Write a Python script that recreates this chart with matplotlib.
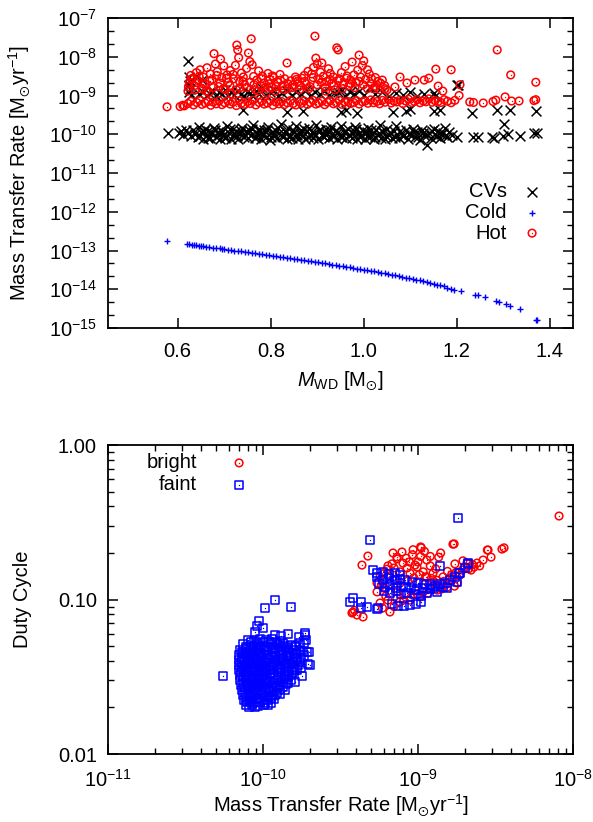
import matplotlib
matplotlib.use("Agg")
import numpy as np
import matplotlib.pyplot as plt
from matplotlib.ticker import FixedLocator, FixedFormatter, NullFormatter

plt.rcParams['font.family'] = ['Liberation Sans', 'DejaVu Sans']
plt.rcParams['mathtext.fontset'] = 'custom'
plt.rcParams['mathtext.rm'] = 'Liberation Sans'
plt.rcParams['mathtext.it'] = 'Liberation Sans:italic'
plt.rcParams['mathtext.default'] = 'regular'

# ---------------- upper panel: white-dwarf mass vs. mass transfer rate ----------------
# CVs, lower branch (~1e-10 Msun/yr)
cv_low_mass = [0.578, 0.603, 0.607, 0.612, 0.618, 0.623, 0.628, 0.633, 0.638, 0.643, 0.646, 0.650,
               0.654, 0.658, 0.662, 0.666, 0.670, 0.674, 0.678, 0.682, 0.686, 0.690, 0.694, 0.698,
               0.702, 0.706, 0.710, 0.714, 0.718, 0.722, 0.726, 0.730, 0.734, 0.738, 0.742, 0.746,
               0.750, 0.754, 0.758, 0.762, 0.766, 0.770, 0.774, 0.778, 0.782, 0.786, 0.790, 0.794,
               0.798, 0.802, 0.806, 0.810, 0.814, 0.818, 0.822, 0.826, 0.830, 0.834, 0.838, 0.842,
               0.846, 0.850, 0.854, 0.858, 0.862, 0.866, 0.870, 0.874, 0.878, 0.882, 0.886, 0.890,
               0.894, 0.898, 0.902, 0.906, 0.910, 0.914, 0.918, 0.922, 0.926, 0.930, 0.934, 0.938,
               0.942, 0.946, 0.950, 0.954, 0.958, 0.962, 0.966, 0.970, 0.974, 0.978, 0.982, 0.986,
               0.990, 0.994, 0.998, 1.002, 1.006, 1.010, 1.014, 1.018, 1.022, 1.026, 1.030, 1.034,
               1.038, 1.042, 1.046, 1.050, 1.055, 1.060, 1.065, 1.070, 1.075, 1.080, 1.085, 1.090,
               1.095, 1.100, 1.105, 1.110, 1.115, 1.120, 1.125, 1.130, 1.135, 1.140, 1.145, 1.150,
               1.155, 1.160, 1.165, 1.170, 1.175, 1.180, 1.183, 1.190, 1.200, 1.235, 1.245, 1.276,
               1.281, 1.302, 1.300, 1.310, 1.336, 1.367, 1.372]
cv_low_rate = [1.05e-10, 1.1e-10, 1.2e-10, 9.6e-11, 1.3e-10, 1.08e-10, 9.0e-11, 1.25e-10, 1.02e-10, 8.3e-11, 1.55e-10, 1.12e-10,
               7.6e-11, 1.38e-10, 9.4e-11, 1.2e-10, 7.9e-11, 1.05e-10, 1.45e-10, 8.6e-11, 1.15e-10, 7.4e-11, 1.3e-10, 9.8e-11,
               8.1e-11, 1.6e-10, 1.1e-10, 7.7e-11, 1.35e-10, 9.2e-11, 1.22e-10, 7.5e-11, 1.04e-10, 1.48e-10, 8.4e-11, 1.18e-10,
               7.8e-11, 1.28e-10, 9.6e-11, 1.7e-10, 8.0e-11, 1.1e-10, 1.4e-10, 7.6e-11, 1.0e-10, 1.25e-10, 8.7e-11, 1.55e-10,
               7.3e-11, 1.13e-10, 9.1e-11, 1.32e-10, 7.9e-11, 1.07e-10, 1.8e-10, 8.5e-11, 1.2e-10, 7.5e-11, 1.42e-10, 9.7e-11,
               8.2e-11, 1.16e-10, 1.6e-10, 7.7e-11, 1.03e-10, 1.3e-10, 8.9e-11, 7.4e-11, 1.19e-10, 1.45e-10, 9.3e-11, 8.0e-11,
               1.08e-10, 1.75e-10, 7.6e-11, 1.26e-10, 9.5e-11, 8.3e-11, 1.37e-10, 1.1e-10, 7.8e-11, 1.5e-10, 9.0e-11, 1.21e-10,
               7.5e-11, 1.02e-10, 1.65e-10, 8.6e-11, 1.14e-10, 7.9e-11, 1.33e-10, 9.6e-11, 8.1e-11, 1.24e-10, 1.55e-10, 7.6e-11,
               1.06e-10, 8.8e-11, 1.29e-10, 7.4e-11, 1.12e-10, 1.45e-10, 8.4e-11, 1.0e-10, 7.7e-11, 1.27e-10, 9.3e-11, 1.75e-10,
               8.0e-11, 1.17e-10, 7.5e-11, 1.35e-10, 9.8e-11, 8.2e-11, 1.22e-10, 1.6e-10, 7.8e-11, 1.08e-10, 8.9e-11, 1.3e-10,
               7.6e-11, 1.0e-10, 1.4e-10, 8.5e-11, 1.15e-10, 7.3e-11, 1.25e-10, 9.4e-11, 5.2e-11, 1.1e-10, 8.0e-11, 1.35e-10,
               9.0e-11, 1.2e-10, 7.8e-11, 1.05e-10, 1.45e-10, 8.7e-11, 1.15e-10, 9.5e-11, 8.5e-11, 8.5e-11, 8.5e-11, 8.5e-11,
               8.2e-11, 1.8e-10, 9.0e-11, 1.0e-10, 8.8e-11, 1.05e-10, 1.1e-10]
cv_low2_mass = [0.648, 0.656, 0.664, 0.672, 0.680, 0.688, 0.696, 0.704, 0.712, 0.720,
                0.728, 0.736, 0.744, 0.752, 0.760, 0.768, 0.776, 0.784, 0.792, 0.800,
                0.808, 0.816, 0.824, 0.832, 0.840, 0.848, 0.856, 0.864, 0.872, 0.880,
                0.888, 0.896, 0.904, 0.912, 0.920, 0.928, 0.936, 0.944, 0.952, 0.960,
                0.968, 0.976, 0.984, 0.992, 1.000, 1.008, 1.016, 1.024, 1.032, 1.040,
                1.048, 1.057, 1.067, 1.077, 1.087, 1.097, 1.107, 1.117, 1.127, 1.137,
                1.147, 1.157, 1.167, 1.177]
cv_low2_rate = [9.0e-11, 1.22e-10, 8.2e-11, 1.05e-10, 1.32e-10, 9.5e-11, 1.15e-10, 8.5e-11, 1.4e-10, 1.0e-10,
                8.8e-11, 1.2e-10, 9.3e-11, 1.1e-10, 1.35e-10, 8.6e-11, 1.18e-10, 9.8e-11, 1.28e-10, 8.4e-11,
                1.02e-10, 1.45e-10, 9.2e-11, 1.12e-10, 8.7e-11, 1.3e-10, 9.6e-11, 1.07e-10, 1.38e-10, 8.5e-11,
                1.16e-10, 9.4e-11, 1.25e-10, 8.9e-11, 1.04e-10, 1.3e-10, 9.0e-11, 1.13e-10, 8.3e-11, 1.22e-10,
                9.7e-11, 1.09e-10, 1.36e-10, 8.6e-11, 1.17e-10, 9.2e-11, 1.27e-10, 8.4e-11, 1.06e-10, 1.2e-10,
                9.1e-11, 1.1e-10, 8.7e-11, 1.24e-10, 9.5e-11, 1.03e-10, 1.15e-10, 8.5e-11, 1.08e-10, 9.6e-11,
                1.2e-10, 8.8e-11, 1.0e-10, 9.3e-11]

# CVs, upper branch (~1e-9 Msun/yr)
cv_high_mass = [0.622, 0.624, 0.625, 0.626, 0.627, 0.625, 0.628, 0.640, 0.652, 0.645, 0.655, 0.662,
                0.668, 0.675, 0.682, 0.688, 0.695, 0.702, 0.708, 0.715, 0.722, 0.728, 0.735, 0.742,
                0.748, 0.755, 0.762, 0.768, 0.775, 0.782, 0.790, 0.798, 0.806, 0.815, 0.825, 0.835,
                0.845, 0.855, 0.865, 0.875, 0.885, 0.895, 0.905, 0.915, 0.925, 0.935, 0.945, 0.953,
                0.960, 0.970, 0.980, 0.990, 1.000, 1.013, 1.025, 1.040, 1.055, 1.070, 1.085, 1.100,
                1.115, 1.130, 1.150, 1.153, 1.200, 1.203, 0.740, 0.835, 0.870, 0.950, 0.962, 0.985,
                1.063, 1.090, 1.100, 1.150, 1.165, 1.232, 1.287, 1.315, 1.370]
cv_high_rate = [7.8e-9, 1.9e-9, 3.0e-9, 2.4e-9, 1.5e-9, 1.25e-9, 1.05e-9, 3.2e-9, 2.5e-9, 1.1e-9, 1.25e-9, 9.8e-10,
                1.15e-9, 1.3e-9, 1.0e-9, 1.2e-9, 1.1e-9, 1.35e-9, 9.5e-10, 1.2e-9, 1.05e-9, 1.3e-9, 1.1e-9, 9.7e-10,
                1.25e-9, 1.15e-9, 1.0e-9, 1.3e-9, 1.1e-9, 1.6e-9, 1.05e-9, 1.2e-9, 1.35e-9, 1.0e-9, 1.15e-9, 1.3e-9,
                1.05e-9, 1.2e-9, 1.1e-9, 1.4e-9, 1.0e-9, 1.2e-9, 1.1e-9, 1.3e-9, 1.05e-9, 1.15e-9, 1.25e-9, 1.4e-9,
                1.0e-9, 1.2e-9, 1.1e-9, 1.3e-9, 1.05e-9, 1.7e-9, 1.1e-9, 1.2e-9, 1.0e-9, 1.15e-9, 1.05e-9, 1.2e-9,
                1.0e-9, 1.1e-9, 1.16e-9, 1.0e-9, 1.9e-9, 1.86e-9, 4.2e-10, 3.8e-10, 4.1e-10, 3.7e-10, 4.3e-10, 3.6e-10,
                3.7e-10, 3.9e-10, 4.5e-10, 4.0e-10, 4.2e-10, 3.6e-10, 4.2e-10, 4.2e-10, 4.0e-10]

# Cold disc systems
cold_mass = [0.577, 0.620, 0.625, 0.630, 0.636, 0.640, 0.646, 0.650, 0.655, 0.660, 0.667, 0.675,
             0.682, 0.690, 0.696, 0.700, 0.708, 0.715, 0.722, 0.730, 0.737, 0.745, 0.752, 0.760,
             0.767, 0.775, 0.782, 0.790, 0.797, 0.805, 0.812, 0.820, 0.827, 0.835, 0.842, 0.850,
             0.857, 0.865, 0.872, 0.880, 0.887, 0.895, 0.902, 0.910, 0.917, 0.925, 0.932, 0.940,
             0.947, 0.955, 0.962, 0.970, 0.977, 0.985, 0.992, 1.000, 1.008, 1.015, 1.022, 1.030,
             1.038, 1.045, 1.052, 1.060, 1.068, 1.075, 1.082, 1.090, 1.098, 1.105, 1.112, 1.120,
             1.128, 1.135, 1.142, 1.150, 1.158, 1.165, 1.172, 1.180, 1.188, 1.195, 1.210, 1.240,
             1.245, 1.260, 1.285, 1.290, 1.305, 1.315, 1.335, 1.370, 1.372]
cold_rate = [1.75e-13, 1.45e-13, 1.43e-13, 1.40e-13, 1.36e-13, 1.35e-13, 1.31e-13, 1.30e-13, 1.27e-13, 1.25e-13, 1.22e-13, 1.19e-13,
             1.16e-13, 1.13e-13, 1.11e-13, 1.09e-13, 1.06e-13, 1.03e-13, 1.0e-13, 9.7e-14, 9.45e-14, 9.2e-14, 8.95e-14, 8.7e-14,
             8.45e-14, 8.2e-14, 7.95e-14, 7.7e-14, 7.5e-14, 7.3e-14, 7.1e-14, 6.9e-14, 6.7e-14, 6.5e-14, 6.3e-14, 6.1e-14,
             5.95e-14, 5.8e-14, 5.65e-14, 5.5e-14, 5.3e-14, 5.1e-14, 4.95e-14, 4.8e-14, 4.65e-14, 4.5e-14, 4.35e-14, 4.2e-14,
             4.05e-14, 3.9e-14, 3.8e-14, 3.7e-14, 3.55e-14, 3.4e-14, 3.3e-14, 3.2e-14, 3.1e-14, 3.0e-14, 2.9e-14, 2.8e-14,
             2.7e-14, 2.6e-14, 2.5e-14, 2.4e-14, 2.3e-14, 2.2e-14, 2.1e-14, 2.0e-14, 1.92e-14, 1.85e-14, 1.78e-14, 1.7e-14,
             1.62e-14, 1.55e-14, 1.48e-14, 1.4e-14, 1.32e-14, 1.25e-14, 1.18e-14, 1.1e-14, 1.04e-14, 9.8e-15, 8.8e-15, 7.2e-15,
             7.0e-15, 6.2e-15, 5.0e-15, 4.8e-15, 4.2e-15, 3.8e-15, 3.1e-15, 1.65e-15, 1.6e-15]

# Hot disc systems, main band (~6e-10 Msun/yr)
hot_band_mass = [0.577, 0.605, 0.611, 0.614, 0.622, 0.628, 0.634, 0.641, 0.647, 0.652, 0.659, 0.665,
                 0.671, 0.676, 0.683, 0.689, 0.695, 0.701, 0.708, 0.713, 0.719, 0.726, 0.732, 0.737,
                 0.744, 0.750, 0.756, 0.762, 0.768, 0.775, 0.781, 0.786, 0.793, 0.799, 0.805, 0.811,
                 0.818, 0.823, 0.829, 0.836, 0.842, 0.848, 0.854, 0.861, 0.866, 0.872, 0.879, 0.885,
                 0.891, 0.897, 0.903, 0.910, 0.916, 0.922, 0.928, 0.935, 0.941, 0.947, 0.953, 0.959,
                 0.966, 0.972, 0.978, 0.984, 0.990, 0.997, 1.003, 1.009, 1.015, 1.021, 1.028, 1.034,
                 1.040, 1.046, 1.053, 1.059, 1.065, 1.071, 1.078, 1.084, 1.090, 1.096, 1.103, 1.109,
                 1.115, 1.121, 1.128, 1.134, 1.140, 1.147, 1.153, 1.160, 1.166, 1.173, 1.180, 1.188,
                 1.196, 1.228, 1.236, 1.257, 1.278, 1.284, 1.304, 1.318, 1.334, 1.366, 1.370]
hot_band_rate = [5.1e-10, 5.2e-10, 5.6e-10, 5.4e-10, 6.2e-10, 7.1e-10, 5.7e-10, 6.6e-10, 7.5e-10, 5.9e-10, 6.4e-10, 7.0e-10,
                 5.6e-10, 6.8e-10, 6.1e-10, 7.3e-10, 5.8e-10, 6.5e-10, 7.2e-10, 6.0e-10, 6.7e-10, 5.5e-10, 7.4e-10, 6.3e-10,
                 5.9e-10, 6.9e-10, 6.2e-10, 7.6e-10, 5.7e-10, 6.6e-10, 7.1e-10, 6.0e-10, 6.4e-10, 7.3e-10, 5.6e-10, 6.8e-10,
                 6.1e-10, 7.0e-10, 5.8e-10, 6.5e-10, 7.4e-10, 6.2e-10, 5.7e-10, 6.9e-10, 6.3e-10, 7.2e-10, 5.9e-10, 6.6e-10,
                 7.5e-10, 6.0e-10, 6.4e-10, 7.1e-10, 5.8e-10, 6.7e-10, 7.3e-10, 6.1e-10, 6.5e-10, 7.6e-10, 5.9e-10, 6.8e-10,
                 7.0e-10, 6.2e-10, 6.6e-10, 7.4e-10, 6.0e-10, 6.9e-10, 7.2e-10, 6.3e-10, 7.7e-10, 6.5e-10, 7.0e-10, 6.1e-10,
                 7.5e-10, 6.7e-10, 7.9e-10, 6.4e-10, 7.1e-10, 6.8e-10, 7.6e-10, 6.2e-10, 7.3e-10, 8.0e-10, 6.6e-10, 7.0e-10,
                 7.8e-10, 6.5e-10, 7.2e-10, 6.9e-10, 8.2e-10, 6.7e-10, 7.4e-10, 7.0e-10, 6.6e-10, 7.8e-10, 7.1e-10, 6.5e-10,
                 7.5e-10, 6.8e-10, 6.6e-10, 6.4e-10, 7.0e-10, 7.6e-10, 9.2e-10, 7.2e-10, 7.2e-10, 7.4e-10, 7.8e-10]

# Hot disc systems above the main band
hot_high_mass = [0.622, 0.625, 0.628, 0.632, 0.636, 0.640, 0.644, 0.648, 0.652, 0.655, 0.659, 0.663,
                 0.667, 0.670, 0.674, 0.678, 0.681, 0.685, 0.688, 0.692, 0.695, 0.699, 0.702, 0.706,
                 0.709, 0.713, 0.716, 0.720, 0.724, 0.727, 0.729, 0.731, 0.734, 0.737, 0.740, 0.744,
                 0.748, 0.752, 0.755, 0.758, 0.760, 0.763, 0.767, 0.770, 0.774, 0.778, 0.782, 0.786,
                 0.790, 0.794, 0.798, 0.802, 0.806, 0.810, 0.815, 0.820, 0.825, 0.830, 0.835, 0.838,
                 0.843, 0.848, 0.853, 0.858, 0.862, 0.867, 0.872, 0.876, 0.880, 0.884, 0.888, 0.892,
                 0.895, 0.897, 0.900, 0.903, 0.907, 0.910, 0.913, 0.917, 0.920, 0.924, 0.928, 0.931,
                 0.935, 0.938, 0.942, 0.945, 0.948, 0.952, 0.956, 0.960, 0.964, 0.968, 0.972, 0.975,
                 0.979, 0.983, 0.987, 0.990, 0.993, 0.997, 1.000, 1.004, 1.008, 1.012, 1.016, 1.020,
                 1.025, 1.030, 1.035, 1.040, 1.045, 1.050, 1.067, 1.078, 1.093, 1.110, 1.130, 1.140,
                 1.155, 1.160, 1.170, 1.188, 1.207, 1.205, 1.287, 1.316, 1.370]
hot_high_rate = [1.3e-9, 2.2e-9, 3.3e-9, 2.8e-9, 1.8e-9, 3.9e-9, 2.4e-9, 4.6e-9, 1.5e-9, 3.0e-9, 2.0e-9, 5.2e-9,
                 1.2e-9, 3.6e-9, 2.6e-9, 1.2e-8, 6.5e-9, 4.1e-9, 1.7e-9, 8.7e-9, 2.9e-9, 5.8e-9, 1.4e-9, 3.4e-9,
                 2.2e-9, 4.4e-9, 1.1e-9, 2.7e-9, 6.0e-9, 2.0e-8, 1.5e-8, 9.5e-9, 1.6e-9, 3.8e-9, 2.3e-9, 1.9e-9,
                 5.0e-9, 1.25e-8, 7.5e-9, 2.9e-8, 6.2e-9, 3.1e-9, 1.4e-9, 2.5e-9, 4.3e-9, 1.8e-9, 3.2e-9, 2.1e-9,
                 1.2e-9, 3.7e-9, 2.6e-9, 1.6e-9, 2.9e-9, 1.3e-9, 2.2e-9, 3.5e-9, 1.8e-9, 2.7e-9, 6.9e-9, 1.5e-9,
                 2.4e-9, 1.9e-9, 3.0e-9, 2.3e-9, 1.4e-9, 2.8e-9, 3.3e-9, 2.0e-9, 4.2e-9, 1.7e-9, 3.6e-9, 5.3e-9,
                 3.4e-8, 9.2e-9, 6.6e-9, 2.6e-9, 4.0e-9, 6.9e-9, 3.1e-9, 1.6e-9, 2.3e-9, 4.9e-9, 3.7e-9, 2.1e-9,
                 3.0e-9, 1.4e-9, 1.7e-8, 1.5e-8, 2.7e-9, 3.9e-9, 2.0e-9, 5.6e-9, 3.2e-9, 1.8e-9, 2.5e-9, 7.3e-9,
                 3.4e-9, 2.2e-9, 4.5e-9, 1.1e-8, 3.0e-9, 5.9e-9, 7.8e-9, 2.6e-9, 4.6e-9, 3.6e-9, 2.0e-9, 1.5e-9,
                 2.9e-9, 2.3e-9, 1.4e-9, 2.5e-9, 1.8e-9, 1.4e-9, 1.66e-9, 3.0e-9, 2.1e-9, 2.5e-9, 2.5e-9, 2.8e-9,
                 4.8e-9, 1.75e-9, 1.3e-9, 4.6e-9, 1.9e-9, 1.0e-9, 1.5e-8, 3.4e-9, 2.2e-9]
hot_high2_mass = [0.623, 0.630, 0.638, 0.646, 0.654, 0.661, 0.669, 0.676, 0.684, 0.691,
                  0.698, 0.705, 0.712, 0.719, 0.726, 0.733, 0.741, 0.748, 0.756, 0.764,
                  0.772, 0.780, 0.788, 0.796, 0.804, 0.812, 0.821, 0.829, 0.837, 0.846,
                  0.855, 0.864, 0.873, 0.882, 0.891, 0.900, 0.909, 0.918, 0.927, 0.936,
                  0.945, 0.954, 0.963, 0.972, 0.981, 0.990, 0.999, 1.008, 1.017, 1.026,
                  1.036, 1.046]
hot_high2_rate = [1.7e-9, 2.6e-9, 1.4e-9, 3.1e-9, 2.0e-9, 1.3e-9, 2.4e-9, 1.6e-9, 3.3e-9, 2.1e-9,
                  1.5e-9, 2.8e-9, 1.8e-9, 3.5e-9, 1.4e-9, 2.3e-9, 3.0e-9, 1.6e-9, 2.2e-9, 1.9e-9,
                  1.3e-9, 2.7e-9, 1.6e-9, 2.0e-9, 3.2e-9, 1.7e-9, 2.5e-9, 1.4e-9, 2.0e-9, 1.6e-9,
                  2.6e-9, 1.8e-9, 2.3e-9, 1.5e-9, 2.9e-9, 1.9e-9, 2.2e-9, 1.3e-9, 2.6e-9, 1.8e-9,
                  2.4e-9, 1.5e-9, 2.8e-9, 2.0e-9, 1.6e-9, 2.3e-9, 1.9e-9, 1.5e-9, 2.7e-9, 1.7e-9,
                  2.1e-9, 1.5e-9]

mass_ticks = [0.6, 0.8, 1.0, 1.2, 1.4]
rate_decades_top = [1e-15, 1e-14, 1e-13, 1e-12, 1e-11, 1e-10, 1e-9, 1e-8, 1e-7]

# ---------------- lower panel: mass transfer rate vs. duty cycle ----------------
bright_rate = [4.35e-10, 4.75e-10, 7.32e-10, 7.88e-10, 1.04e-9, 1.71e-9, 1.36e-9, 2.83e-9, 3.48e-9, 3.59e-9,
               2.96e-9, 2.63e-9, 2.40e-9, 2.07e-9, 1.73e-9, 1.14e-9, 9.57e-10, 8.0e-10, 7.32e-10, 6.31e-10,
               7.65e-10, 8.88e-10, 9.86e-10, 1.08e-9, 1.14e-9, 1.25e-9, 1.45e-9, 1.66e-9, 1.87e-9, 2.01e-9,
               1.79e-9, 1.54e-9, 1.33e-9, 1.16e-9, 1.03e-9, 8.88e-10, 7.65e-10, 6.59e-10, 5.69e-10, 5.44e-10,
               5.44e-10, 5.69e-10, 6.40e-10, 3.75e-10, 3.81e-10, 4.04e-10, 4.42e-10, 8.13e-9, 6.8e-10, 7.0e-10,
               8.4e-10, 9.2e-10, 1.0e-9, 1.2e-9, 1.3e-9, 1.55e-9, 2.2e-9, 2.5e-9, 1.95e-9, 6.1e-10,
               6.6e-10, 7.4e-10, 8.3e-10, 9.6e-10, 1.1e-9, 1.27e-9, 1.43e-9, 1.65e-9, 2.25e-9, 6.0e-10,
               8.5e-10, 1.04e-9, 1.2e-9, 9.3e-10, 6.9e-10, 1.4e-9, 5.9e-10, 7.0e-10, 3.9e-10, 1.68e-9,
               2.8e-9, 1.05e-9]
bright_duty = [0.167, 0.191, 0.188, 0.203, 0.219, 0.229, 0.188, 0.209, 0.212, 0.216,
               0.188, 0.180, 0.172, 0.172, 0.170, 0.180, 0.167, 0.172, 0.183, 0.157,
               0.151, 0.148, 0.162, 0.151, 0.140, 0.148, 0.140, 0.134, 0.144, 0.162,
               0.128, 0.120, 0.115, 0.110, 0.104, 0.099, 0.0964, 0.083, 0.0949, 0.112,
               0.128, 0.140, 0.099, 0.0818, 0.083, 0.0794, 0.0771, 0.347, 0.170, 0.160,
               0.185, 0.195, 0.175, 0.165, 0.158, 0.152, 0.155, 0.165, 0.178, 0.118,
               0.126, 0.112, 0.108, 0.115, 0.125, 0.130, 0.125, 0.145, 0.168, 0.147,
               0.160, 0.190, 0.190, 0.210, 0.200, 0.200, 0.088, 0.090, 0.085, 0.228,
               0.209, 0.216]
bright2_rate = [6.5e-10, 7.1e-10, 7.7e-10, 8.6e-10, 9.4e-10, 1.02e-9, 1.12e-9, 1.22e-9, 1.33e-9, 1.47e-9,
                1.6e-9, 1.76e-9, 1.93e-9, 2.12e-9, 2.3e-9, 6.2e-10, 7.3e-10, 8.1e-10, 9.0e-10, 9.9e-10,
                1.08e-9, 1.18e-9, 1.3e-9, 1.42e-9, 1.57e-9, 1.72e-9, 5.8e-10, 6.4e-10, 8.8e-10, 1.1e-9]
bright2_duty = [0.142, 0.135, 0.128, 0.132, 0.138, 0.145, 0.140, 0.137, 0.133, 0.131,
                0.138, 0.150, 0.155, 0.158, 0.162, 0.105, 0.102, 0.099, 0.103, 0.108,
                0.112, 0.118, 0.121, 0.117, 0.127, 0.122, 0.123, 0.165, 0.175, 0.205]

# faint systems, low-rate cluster
faint_low_rate = [8.0e-11, 8.8e-11, 9.6e-11, 1.05e-10, 1.14e-10, 1.29e-10,
                  7.45e-11, 8.25e-11, 9.1e-11, 1.02e-10, 1.12e-10, 1.25e-10, 1.39e-10, 1.51e-10,
                  7.1e-11, 7.8e-11, 8.5e-11, 9.3e-11, 1.03e-10, 1.14e-10, 1.27e-10, 1.41e-10, 1.56e-10, 1.73e-10,
                  7.0e-11, 7.65e-11, 8.4e-11, 9.3e-11, 1.015e-10, 1.11e-10, 1.21e-10, 1.35e-10, 1.49e-10, 1.66e-10, 1.84e-10,
                  7.0e-11, 7.54e-11, 8.25e-11, 9.0e-11, 9.85e-11, 1.076e-10, 1.19e-10, 1.33e-10, 1.47e-10, 1.63e-10,
                  7.0e-11, 7.66e-11, 8.37e-11, 9.15e-11, 1.0e-10, 1.11e-10, 1.23e-10, 1.37e-10, 1.51e-10, 1.68e-10,
                  7.0e-11, 7.54e-11, 8.25e-11, 9.0e-11, 9.85e-11, 1.076e-10, 1.18e-10, 1.31e-10, 1.45e-10, 1.61e-10,
                  7.11e-11, 7.77e-11, 8.49e-11, 9.29e-11, 1.015e-10, 1.125e-10, 1.25e-10, 1.39e-10, 1.54e-10,
                  7.11e-11, 7.77e-11, 8.49e-11, 9.29e-11, 1.015e-10, 1.11e-10, 1.23e-10, 1.37e-10, 1.51e-10,
                  7.21e-11, 7.89e-11, 8.62e-11, 9.42e-11, 1.03e-10, 1.14e-10, 1.27e-10, 1.41e-10,
                  7.32e-11, 8.0e-11, 8.75e-11, 9.57e-11, 1.045e-10, 1.16e-10, 1.29e-10, 1.39e-10,
                  7.43e-11, 8.12e-11, 8.88e-11, 9.71e-11, 1.076e-10, 1.19e-10, 1.29e-10,
                  7.54e-11, 8.25e-11, 9.01e-11, 9.85e-11, 1.076e-10, 1.18e-10,
                  7.77e-11, 8.49e-11, 9.29e-11, 1.015e-10, 8.1e-11, 8.9e-11,
                  5.5e-11, 1.2e-10, 1.03e-10, 1.52e-10, 9.4e-11, 9.1e-11, 8.9e-11, 1.0e-10, 1.19e-10,
                  1.87e-10, 1.9e-10, 1.98e-10, 1.95e-10, 1.6e-10, 1.65e-10, 7.4e-11, 1.7e-10, 1.45e-10,
                  1.3e-10, 1.85e-10, 1.75e-10, 1.78e-10, 1.14e-10, 1.076e-10, 1.41e-10, 1.66e-10, 1.61e-10,
                  2.0e-10, 1.93e-10, 1.87e-10, 1.73e-10]
faint_low_duty = [0.0550, 0.0541, 0.0556, 0.0545, 0.0552, 0.0538,
                  0.0512, 0.0503, 0.0510, 0.0498, 0.0515, 0.0506, 0.0501, 0.0509,
                  0.0468, 0.0475, 0.0466, 0.0472, 0.0470, 0.0477, 0.0465, 0.0473, 0.0469, 0.0474,
                  0.0437, 0.0441, 0.0433, 0.0439, 0.0435, 0.0440, 0.0432, 0.0438, 0.0436, 0.0442, 0.0434,
                  0.0405, 0.0409, 0.0402, 0.0407, 0.0404, 0.0410, 0.0403, 0.0408, 0.0401, 0.0406,
                  0.0378, 0.0374, 0.0380, 0.0376, 0.0379, 0.0373, 0.0377, 0.0375, 0.0381, 0.0376,
                  0.0351, 0.0347, 0.0353, 0.0349, 0.0352, 0.0348, 0.0350, 0.0354, 0.0346, 0.0351,
                  0.0324, 0.0327, 0.0322, 0.0326, 0.0323, 0.0328, 0.0325, 0.0321, 0.0326,
                  0.0302, 0.0299, 0.0304, 0.0300, 0.0303, 0.0298, 0.0301, 0.0305, 0.0300,
                  0.0281, 0.0278, 0.0283, 0.0279, 0.0282, 0.0277, 0.0280, 0.0284,
                  0.0261, 0.0258, 0.0262, 0.0259, 0.0260, 0.0257, 0.0263, 0.0259,
                  0.0242, 0.0239, 0.0243, 0.0240, 0.0238, 0.0241, 0.0244,
                  0.0225, 0.0222, 0.0226, 0.0223, 0.0224, 0.0227,
                  0.0207, 0.0209, 0.0205, 0.0208, 0.0201, 0.0202,
                  0.032, 0.099, 0.088, 0.089, 0.073, 0.067, 0.062, 0.065, 0.059,
                  0.061, 0.055, 0.046, 0.038, 0.050, 0.041, 0.045, 0.057, 0.060,
                  0.058, 0.052, 0.036, 0.032, 0.0236, 0.0208, 0.0325, 0.035, 0.0292,
                  0.0377, 0.046, 0.059, 0.0522]
faint_low2_rate = [8.37e-11, 9.15e-11, 1.0e-10, 1.09e-10, 1.21e-10, 1.35e-10,
                   7.77e-11, 8.62e-11, 9.57e-11, 1.06e-10, 1.18e-10, 1.31e-10, 1.45e-10, 1.63e-10,
                   7.32e-11, 8.12e-11, 8.88e-11, 9.71e-11, 1.076e-10, 1.19e-10, 1.33e-10, 1.47e-10, 1.63e-10, 1.81e-10,
                   7.32e-11, 8.0e-11, 8.75e-11, 9.71e-11, 1.06e-10, 1.16e-10, 1.29e-10, 1.43e-10, 1.59e-10, 1.76e-10,
                   7.21e-11, 7.89e-11, 8.62e-11, 9.42e-11, 1.03e-10, 1.14e-10, 1.27e-10, 1.41e-10, 1.56e-10, 1.73e-10,
                   7.32e-11, 8.0e-11, 8.75e-11, 9.57e-11, 1.045e-10, 1.16e-10, 1.29e-10, 1.43e-10, 1.59e-10,
                   7.21e-11, 7.89e-11, 8.62e-11, 9.42e-11, 1.03e-10, 1.125e-10, 1.25e-10, 1.39e-10, 1.54e-10,
                   7.43e-11, 8.12e-11, 8.88e-11, 9.71e-11, 1.06e-10, 1.18e-10, 1.31e-10, 1.45e-10,
                   7.43e-11, 8.12e-11, 8.88e-11, 9.71e-11, 1.06e-10, 1.18e-10, 1.31e-10, 1.45e-10,
                   7.54e-11, 8.25e-11, 9.01e-11, 9.85e-11, 1.09e-10, 1.21e-10, 1.35e-10,
                   7.66e-11, 8.37e-11, 9.15e-11, 1.0e-10, 1.11e-10, 1.23e-10,
                   7.77e-11, 8.49e-11, 9.29e-11, 1.03e-10, 1.125e-10,
                   7.89e-11, 8.62e-11, 9.42e-11, 1.03e-10, 1.125e-10]
faint_low2_duty = [0.0530, 0.0525, 0.0533, 0.0527, 0.0531, 0.0524,
                   0.0489, 0.0493, 0.0486, 0.0491, 0.0488, 0.0494, 0.0487, 0.0490,
                   0.0455, 0.0451, 0.0457, 0.0453, 0.0456, 0.0450, 0.0454, 0.0458, 0.0452, 0.0455,
                   0.0421, 0.0424, 0.0419, 0.0423, 0.0420, 0.0425, 0.0418, 0.0422, 0.0426, 0.0420,
                   0.0391, 0.0388, 0.0393, 0.0390, 0.0394, 0.0389, 0.0392, 0.0387, 0.0391, 0.0395,
                   0.0363, 0.0366, 0.0361, 0.0364, 0.0362, 0.0367, 0.0360, 0.0365, 0.0363,
                   0.0337, 0.0334, 0.0339, 0.0336, 0.0338, 0.0333, 0.0340, 0.0335, 0.0337,
                   0.0313, 0.0316, 0.0311, 0.0314, 0.0312, 0.0317, 0.0310, 0.0315,
                   0.0290, 0.0288, 0.0292, 0.0289, 0.0291, 0.0287, 0.0293, 0.0290,
                   0.0270, 0.0272, 0.0268, 0.0271, 0.0269, 0.0273, 0.0270,
                   0.0250, 0.0248, 0.0252, 0.0249, 0.0251, 0.0247,
                   0.0232, 0.0234, 0.0231, 0.0233, 0.0230,
                   0.0216, 0.0214, 0.0217, 0.0215, 0.0213]

# faint systems, high-rate cluster
faint_high_rate = [5.44e-10, 5.94e-10, 6.5e-10, 7.11e-10, 7.65e-10,
                   5.44e-10, 5.94e-10, 6.5e-10, 7.11e-10, 7.65e-10,
                   5.6e-10, 6.1e-10, 6.6e-10, 7.2e-10, 7.8e-10,
                   6.0e-10, 6.6e-10, 7.2e-10, 7.8e-10,
                   8.24e-10, 9.14e-10, 1.0e-9, 1.09e-9, 1.19e-9,
                   8.3e-10, 9.0e-10, 9.9e-10, 1.08e-9, 1.19e-9,
                   8.5e-10, 9.5e-10, 1.05e-9, 1.15e-9,
                   1.29e-9, 1.39e-9, 1.49e-9, 1.61e-9, 1.73e-9, 1.87e-9, 2.01e-9, 2.10e-9,
                   1.33e-9, 1.54e-9, 1.79e-9, 1.25e-9, 1.45e-9,
                   6.79e-10, 7.43e-10, 8.12e-10, 8.88e-10, 9.7e-10, 1.04e-9,
                   3.64e-10, 3.81e-10, 4.29e-10, 4.29e-10, 4.69e-10, 5.44e-10, 5.5e-10,
                   5.13e-10, 4.9e-10, 1.81e-9, 1.39e-9, 1.83e-9, 2.1e-9]
faint_high_duty = [0.148, 0.150, 0.146, 0.149, 0.144,
                   0.139, 0.134, 0.138, 0.133, 0.136,
                   0.127, 0.121, 0.125, 0.119, 0.123,
                   0.113, 0.110, 0.114, 0.109,
                   0.133, 0.130, 0.128, 0.126, 0.125,
                   0.121, 0.118, 0.116, 0.119, 0.117,
                   0.110, 0.108, 0.106, 0.110,
                   0.122, 0.126, 0.128, 0.134, 0.140, 0.148, 0.160, 0.170,
                   0.112, 0.119, 0.130, 0.118, 0.120,
                   0.0935, 0.0908, 0.0908, 0.0921, 0.0935, 0.0964,
                   0.0964, 0.102, 0.0964, 0.0881, 0.0894, 0.0868, 0.0881,
                   0.155, 0.243, 0.337, 0.165, 0.149, 0.172]

rate_decades_bottom = [1e-11, 1e-10, 1e-9, 1e-8]
duty_ticks = [0.01, 0.1, 1.0]
duty_tick_labels = ['0.01', '0.10', '1.00']


def decade_label(v):
    return r'$10^{%d}$' % int(round(np.log10(v)))


FS = 14.5
W, H = 593, 822
fig = plt.figure(figsize=(W / 100, H / 100), dpi=100)
ax1 = fig.add_axes([108 / W, 1 - 328 / H, 465 / W, 310 / H])
ax2 = fig.add_axes([108 / W, 1 - 754 / H, 465 / W, 309 / H])


def open_marker(ax, x, y, marker, color, s, **kw):
    ax.scatter(x, y, marker=marker, s=s, facecolors='none', edgecolors=color,
               linewidths=1.1, **kw)
    ax.scatter(x, y, marker='o', s=1.0, color=color, linewidths=0, **kw)


# ----- upper panel -----
cv_mass = np.concatenate([cv_low_mass, cv_low2_mass, cv_high_mass])
cv_rate = np.concatenate([cv_low_rate, cv_low2_rate, cv_high_rate])
hot_mass = np.concatenate([hot_band_mass, hot_high_mass, hot_high2_mass])
hot_rate = np.concatenate([hot_band_rate, hot_high_rate, hot_high2_rate])

ax1.scatter(cv_mass, cv_rate, marker='x', s=50, color='black', linewidths=1.1)
ax1.scatter(cold_mass, cold_rate, marker='+', s=22, color='blue', linewidths=1.0)
open_marker(ax1, hot_mass, hot_rate, 'o', 'red', 30)

ax1.set_yscale('log')
ax1.set_ylim(1e-15, 1e-7)
ax1.set_xlim(0.45, 1.45)
ax1.xaxis.set_major_locator(FixedLocator(mass_ticks))
ax1.xaxis.set_major_formatter(FixedFormatter([f'{m:.1f}' for m in mass_ticks]))
ax1.xaxis.set_minor_locator(FixedLocator([]))
ax1.yaxis.set_major_locator(FixedLocator(rate_decades_top))
ax1.yaxis.set_major_formatter(FixedFormatter([decade_label(v) for v in rate_decades_top]))
ax1.yaxis.set_minor_locator(FixedLocator(
    [10.0 ** (k + f) for k in range(-15, -7) for f in (1 / 3, 2 / 3)]))
ax1.yaxis.set_minor_formatter(NullFormatter())
ax1.set_ylabel(r'Mass Transfer Rate [M$_{\odot}$yr$^{-1}$]', fontsize=FS)
ax1.set_xlabel(r'$\mathit{M}_{\mathrm{WD}}$ [M$_{\odot}$]', fontsize=FS)
ax1.yaxis.set_label_coords(-0.163, 0.5)
ax1.xaxis.set_label_coords(0.5, -0.132)

# legend drawn gnuplot-style: right-aligned text followed by a sample point
leg_y = [0.439, 0.371, 0.306]
for yy, lab in zip(leg_y, ['CVs', 'Cold', 'Hot']):
    ax1.text(0.858, yy, lab, transform=ax1.transAxes, ha='right', va='center', fontsize=FS)
ax1.scatter([0.912], [leg_y[0]], transform=ax1.transAxes, marker='x', s=50,
            color='black', linewidths=1.1, clip_on=False)
ax1.scatter([0.912], [leg_y[1]], transform=ax1.transAxes, marker='+', s=22,
            color='blue', linewidths=1.0, clip_on=False)
open_marker(ax1, [0.912], [leg_y[2]], 'o', 'red', 30, transform=ax1.transAxes, clip_on=False)

# ----- lower panel -----
bright_x = np.concatenate([bright_rate, bright2_rate])
bright_y = np.concatenate([bright_duty, bright2_duty])
faint_x = np.concatenate([faint_low_rate, faint_low2_rate, faint_high_rate])
faint_y = np.concatenate([faint_low_duty, faint_low2_duty, faint_high_duty])
open_marker(ax2, bright_x, bright_y, 'o', 'red', 30)
open_marker(ax2, faint_x, faint_y, 's', 'blue', 34)

ax2.set_xscale('log')
ax2.set_yscale('log')
ax2.set_xlim(1e-11, 1e-8)
ax2.set_ylim(0.01, 1.0)
ax2.yaxis.set_major_locator(FixedLocator(duty_ticks))
ax2.yaxis.set_major_formatter(FixedFormatter(duty_tick_labels))
ax2.yaxis.set_minor_locator(FixedLocator(
    [m * d for d in (0.01, 0.1) for m in range(2, 10)]))
ax2.yaxis.set_minor_formatter(NullFormatter())
ax2.xaxis.set_major_locator(FixedLocator(rate_decades_bottom))
ax2.xaxis.set_major_formatter(FixedFormatter([decade_label(v) for v in rate_decades_bottom]))
ax2.xaxis.set_minor_locator(FixedLocator(
    [m * d for d in (1e-11, 1e-10, 1e-9) for m in range(2, 10)]))
ax2.xaxis.set_minor_formatter(NullFormatter())
ax2.set_ylabel('Duty Cycle', fontsize=FS)
ax2.set_xlabel(r'Mass Transfer Rate [M$_{\odot}$yr$^{-1}$]', fontsize=FS)
ax2.yaxis.set_label_coords(-0.163, 0.5)
ax2.xaxis.set_label_coords(0.5, -0.123)

for yy, lab in zip([0.942, 0.871], ['bright', 'faint']):
    ax2.text(0.191, yy, lab, transform=ax2.transAxes, ha='right', va='center', fontsize=FS)
open_marker(ax2, [0.282], [0.942], 'o', 'red', 30, transform=ax2.transAxes, clip_on=False)
open_marker(ax2, [0.282], [0.871], 's', 'blue', 34, transform=ax2.transAxes, clip_on=False)

for ax in (ax1, ax2):
    for sp in ax.spines.values():
        sp.set_linewidth(1.3)
    ax.tick_params(which='both', direction='in', top=True, right=True, labelsize=FS)
    ax.tick_params(which='major', length=7, width=1.1, pad=8)
    ax.tick_params(which='minor', length=4, width=1.0)
ax1.tick_params(axis='x', pad=10)
ax2.tick_params(axis='x', pad=11)

fig.savefig('out.png', dpi=100)
